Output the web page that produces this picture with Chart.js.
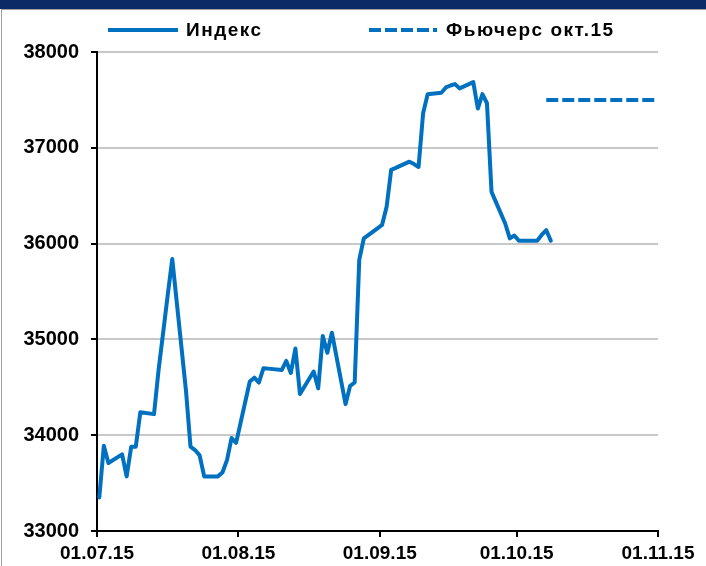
<!DOCTYPE html>
<html>
<head>
<meta charset="utf-8">
<script src="https://cdn.jsdelivr.net/npm/chart.js@4/dist/chart.umd.min.js"></script>
<style>
html,body{margin:0;padding:0;background:#fff;}
#wrap{position:relative;width:706px;height:566px;overflow:hidden;background:#fff;}
#c{position:absolute;left:0;top:0;}
#band{position:absolute;left:0;top:0;width:706px;height:9px;background:#0b2a66;}
#frame{position:absolute;left:1px;top:9px;width:760px;height:600px;border-left:1px solid #a0a0a0;border-top:1px solid #a0a0a0;pointer-events:none;}
</style>
</head>
<body>
<div id="wrap">
<canvas id="c" width="706" height="566"></canvas>
<div id="band"></div>
<div id="frame"></div>
</div>
<script>
// ---- data ----
const seriesNames = ['Индекс', 'Фьючерс окт.15'];

const indexDates = [
 '01.07.15','02.07.15','03.07.15','06.07.15','07.07.15','08.07.15','09.07.15','10.07.15',
 '13.07.15','14.07.15','15.07.15','16.07.15','17.07.15','20.07.15','21.07.15','22.07.15',
 '23.07.15','24.07.15','27.07.15','28.07.15','29.07.15','30.07.15','31.07.15',
 '03.08.15','04.08.15','05.08.15','06.08.15','07.08.15','10.08.15','11.08.15','12.08.15',
 '13.08.15','14.08.15','17.08.15','18.08.15','19.08.15','20.08.15','21.08.15','24.08.15',
 '25.08.15','26.08.15','27.08.15','28.08.15','31.08.15',
 '01.09.15','02.09.15','03.09.15','04.09.15','07.09.15','08.09.15','09.09.15','10.09.15',
 '11.09.15','14.09.15','15.09.15','16.09.15','17.09.15','18.09.15','21.09.15','22.09.15',
 '23.09.15','24.09.15','25.09.15','28.09.15','29.09.15','30.09.15',
 '01.10.15','02.10.15','05.10.15','06.10.15','07.10.15','08.10.15'
];
const indexValues = [
 33350,33890,33710,33800,33570,33880,33880,34240,
 34220,34680,35070,35460,35840,34470,33880,33845,
 33790,33570,33570,33610,33740,33970,33920,
 34560,34600,34550,34700,34695,34680,34775,34650,
 34905,34430,34665,34490,35035,34860,35070,34325,
 34515,34550,35830,36055,36160,
 36195,36385,36770,36790,36855,36830,36800,37360,
 37560,37575,37630,37650,37665,37620,37685,37410,
 37560,37465,36540,36210,36055,36085,
 36030,36030,36030,36090,36140,36030
];

const futuresDates = ['07.10.15', '31.10.15'];
const futuresValues = [37500, 37500];

const xTickDates = ['01.07.15','01.08.15','01.09.15','01.10.15','01.11.15'];
const yTickValues = [33000, 34000, 35000, 36000, 37000, 38000];

// ---- helpers ----
function dayIndex(s) {
  const p = s.split('.').map(Number);
  return Math.round((Date.UTC(2000 + p[2], p[1] - 1, p[0]) - Date.UTC(2015, 6, 1)) / 864e5);
}
const toPoints = (dates, vals) => dates.map((d, i) => ({ x: dayIndex(d), y: vals[i] }));

const BLUE = '#0070C0';
const FONT = '"Liberation Sans", Arial, sans-serif';

const legendPlugin = {
  id: 'customLegend',
  afterDraw(chart) {
    const ctx = chart.ctx;
    const ds = chart.data.datasets;
    const items = [
      { lx0: 108, lx1: 178, tx: 186, ds: ds[0] },
      { lx0: 369, lx1: 437, tx: 446, ds: ds[1] }
    ];
    const y = 30;
    ctx.save();
    items.forEach(it => {
      ctx.beginPath();
      ctx.strokeStyle = it.ds.borderColor;
      ctx.lineWidth = it.ds.borderWidth;
      ctx.setLineDash(it.ds.borderDash || []);
      ctx.lineCap = 'butt';
      ctx.moveTo(it.lx0, y);
      ctx.lineTo(it.lx1, y);
      ctx.stroke();
      ctx.setLineDash([]);
      ctx.fillStyle = '#000';
      ctx.font = 'bold 19px ' + FONT;
      try { ctx.letterSpacing = '1.5px'; } catch (e) {}
      ctx.textBaseline = 'middle';
      ctx.textAlign = 'left';
      ctx.fillText(it.ds.label, it.tx, y + 1);
    });
    ctx.restore();
  }
};

new Chart(document.getElementById('c'), {
  type: 'line',
  data: {
    datasets: [
      {
        label: seriesNames[0],
        data: toPoints(indexDates, indexValues),
        borderColor: BLUE,
        backgroundColor: BLUE,
        borderWidth: 4,
        pointRadius: 0,
        tension: 0,
        borderJoinStyle: 'round',
        borderCapStyle: 'round',
        fill: false
      },
      {
        label: seriesNames[1],
        data: toPoints(futuresDates, futuresValues),
        borderColor: BLUE,
        backgroundColor: BLUE,
        borderWidth: 4,
        borderDash: [12, 4],
        borderCapStyle: 'butt',
        pointRadius: 0,
        tension: 0,
        fill: false
      }
    ]
  },
  options: {
    responsive: false,
    animation: false,
    layout: { padding: { top: 52, right: 48, left: 0, bottom: 0 } },
    plugins: { legend: { display: false }, tooltip: { enabled: false } },
    scales: {
      x: {
        type: 'linear',
        min: dayIndex(xTickDates[0]) - 0.5,
        max: dayIndex(xTickDates[xTickDates.length - 1]) - 0.5,
        afterBuildTicks: s => { s.ticks = xTickDates.map(d => ({ value: dayIndex(d) - 0.5 })); },
        afterFit: s => { s.height = 35; },
        grid: { drawOnChartArea: false, tickColor: '#000', tickLength: 6, lineWidth: 2 },
        border: { display: true, color: '#000', width: 2 },
        ticks: {
          autoSkip: false, maxRotation: 0, padding: 5, color: '#000',
          font: { family: FONT, size: 19, weight: 'bold' },
          callback: (v, i) => xTickDates[i]
        }
      },
      y: {
        min: yTickValues[0],
        max: yTickValues[yTickValues.length - 1],
        afterBuildTicks: s => { s.ticks = yTickValues.map(v => ({ value: v })); },
        afterFit: s => { s.width = 97; },
        grid: { color: '#c8c8c8', lineWidth: 2, tickColor: '#000', tickLength: 6 },
        border: { display: true, color: '#000', width: 2 },
        ticks: {
          padding: 12, color: '#000',
          font: { family: FONT, size: 20, weight: 'bold' },
          callback: v => String(v)
        }
      }
    }
  },
  plugins: [legendPlugin]
});
</script>
</body>
</html>
